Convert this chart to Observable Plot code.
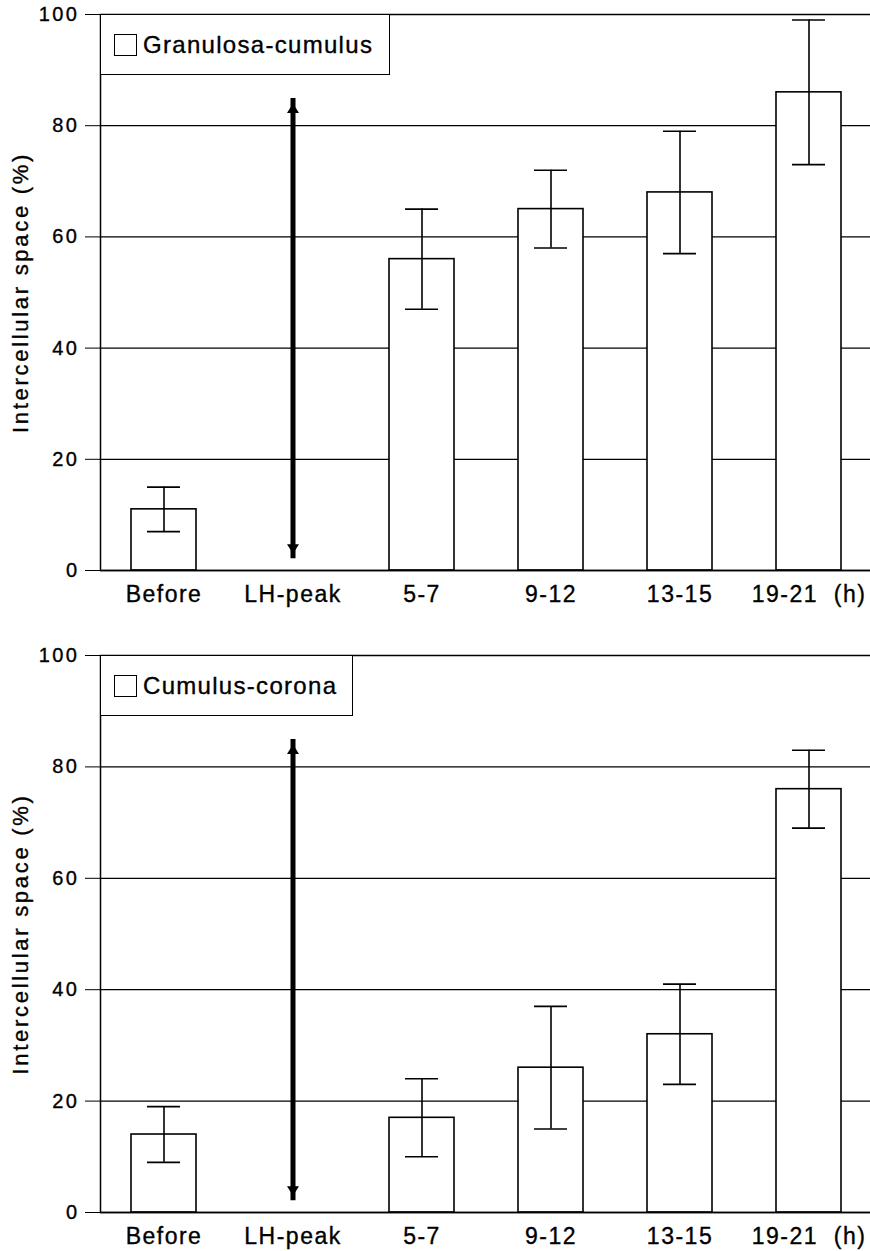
<!DOCTYPE html>
<html>
<head>
<meta charset="utf-8">
<script src="https://cdn.jsdelivr.net/npm/d3@7"></script>
<script src="https://cdn.jsdelivr.net/npm/@observablehq/plot@0.6"></script>
<style>
  html, body { margin: 0; padding: 0; background: #fff; }
  body { width: 870px; height: 1251px; overflow: hidden; position: relative; font-family: "Liberation Sans", Arial, Helvetica, sans-serif; }
  .panel { position: absolute; left: 0; }
  .panel svg { display: block; overflow: visible; }
  .panel svg text { stroke: #000; stroke-width: 0.35px; paint-order: stroke; }
  .panel g[aria-label="x-axis tick label"] text { letter-spacing: 1.5px; }
  .panel g[aria-label="y-axis tick label"] text { letter-spacing: 2.5px; }
  .panel g[aria-label="y-axis label"] text { letter-spacing: 2.7px; }
  .legend { position: absolute; left: 100px; box-sizing: border-box; border: 1.5px solid #000; background: #fff;
            display: flex; align-items: center; font-size: 24px; letter-spacing: 1.3px; color: #000;
            -webkit-text-stroke: 0.35px #000; }
  .legend .swatch { width: 23px; height: 22px; box-sizing: border-box; border: 1.5px solid #000; margin-left: 13px; margin-right: 6px; flex: none; }
</style>
</head>
<body>
<script>
// ---- data ----
const categories = ["Before", "LH-peak", "5-7", "9-12", "13-15", "19-21"];
const timeUnit = "(h)";
const yTicks = [0, 20, 40, 60, 80, 100];
const yLabel = "Intercellular space (%)";

const gcName = "Granulosa-cumulus";
const gcMean = [11, null, 56, 65, 68, 86];
const gcLow  = [7,  null, 47, 58, 57, 73];
const gcHigh = [15, null, 65, 72, 79, 99];

const ccName = "Cumulus-corona";
const ccMean = [14, null, 17, 26, 32, 76];
const ccLow  = [9,  null, 10, 15, 23, 69];
const ccHigh = [19, null, 24, 37, 41, 83];

const arrowCategory = "LH-peak";
const arrowFrom = 3;
const arrowTo = 84;

// arrowhead symbol whose apex sits at the anchor point (pointing up)
const arrowHead = {
  draw(context) {
    context.moveTo(0, 0);
    context.lineTo(-6, 9.5);
    context.lineTo(6, 9.5);
    context.closePath();
  }
};

// ---- chart ----
function rowsOf(mean, low, high) {
  return categories.map((c, i) => ({cat: c, mean: mean[i], low: low[i], high: high[i]}))
                   .filter(d => d.mean != null);
}

function panel({top, height, marginTop, marginBottom, name, legendWidth, mean, low, high}) {
  const rows = rowsOf(mean, low, high);
  const arrow = [{cat: arrowCategory, from: arrowFrom, to: arrowTo}];
  const plot = Plot.plot({
    width: 870,
    height,
    marginLeft: 100,
    marginRight: 0,
    marginTop,
    marginBottom,
    style: {background: "#fff", fontFamily: '"Liberation Sans", Arial, Helvetica, sans-serif', color: "#000"},
    x: {type: "band", domain: categories, range: [99, 873], padding: 0},
    y: {domain: [0, 100]},
    marks: [
      Plot.gridY(yTicks, {stroke: "#000", strokeOpacity: 1, strokeWidth: 1.2}),
      Plot.barY(rows, {x: "cat", y: "mean", fill: "#fff", stroke: "#000", strokeWidth: 1.6, insetLeft: 32, insetRight: 32}),
      Plot.ruleX(rows, {x: "cat", y1: "low", y2: "high", stroke: "#000", strokeWidth: 1.6}),
      Plot.tickY(rows, {x: "cat", y: "low", stroke: "#000", strokeWidth: 1.6, insetLeft: 48, insetRight: 48}),
      Plot.tickY(rows, {x: "cat", y: "high", stroke: "#000", strokeWidth: 1.6, insetLeft: 48, insetRight: 48}),
      Plot.ruleX(arrow, {x: "cat", y1: "from", y2: "to", stroke: "#000", strokeWidth: 5, insetTop: 5, insetBottom: 5}),
      Plot.dot(arrow, {x: "cat", y: "to", symbol: arrowHead, fill: "#000", stroke: null}),
      Plot.dot(arrow, {x: "cat", y: "from", symbol: arrowHead, fill: "#000", stroke: null, rotate: 180}),
      Plot.frame({stroke: "#000", strokeWidth: 1.5, insetRight: -4}),
      Plot.axisY(yTicks, {tickSize: 15, tickPadding: 6, fontSize: 20, label: yLabel, labelAnchor: "center", labelOffset: 88, labelArrow: "none"}),
      Plot.axisX({tickSize: 0, tickPadding: 15, fontSize: 23, label: null,
                  tickFormat: d => d === categories[categories.length - 1] ? d + "\u00a0\u00a0" + timeUnit : d}),
      Plot.ruleY([0], {stroke: "#000", strokeWidth: 1.5})
    ]
  });
  const div = document.createElement("div");
  div.className = "panel";
  div.style.top = top + "px";
  div.appendChild(plot);
  document.body.appendChild(div);

  plot.querySelectorAll('g[aria-label="y-axis label"] text').forEach(t => t.setAttribute("font-size", 22));

  const leg = document.createElement("div");
  leg.className = "legend";
  leg.style.top = (top + marginTop) + "px";
  leg.style.width = legendWidth + "px";
  leg.style.height = "61px";
  const sw = document.createElement("div");
  sw.className = "swatch";
  const tx = document.createElement("span");
  tx.textContent = name;
  leg.appendChild(sw);
  leg.appendChild(tx);
  document.body.appendChild(leg);
}

panel({top: 0, height: 610, marginTop: 14, marginBottom: 40, name: gcName, legendWidth: 290, mean: gcMean, low: gcLow, high: gcHigh});
panel({top: 640, height: 611, marginTop: 15, marginBottom: 39, name: ccName, legendWidth: 253, mean: ccMean, low: ccLow, high: ccHigh});
</script>
</body>
</html>
